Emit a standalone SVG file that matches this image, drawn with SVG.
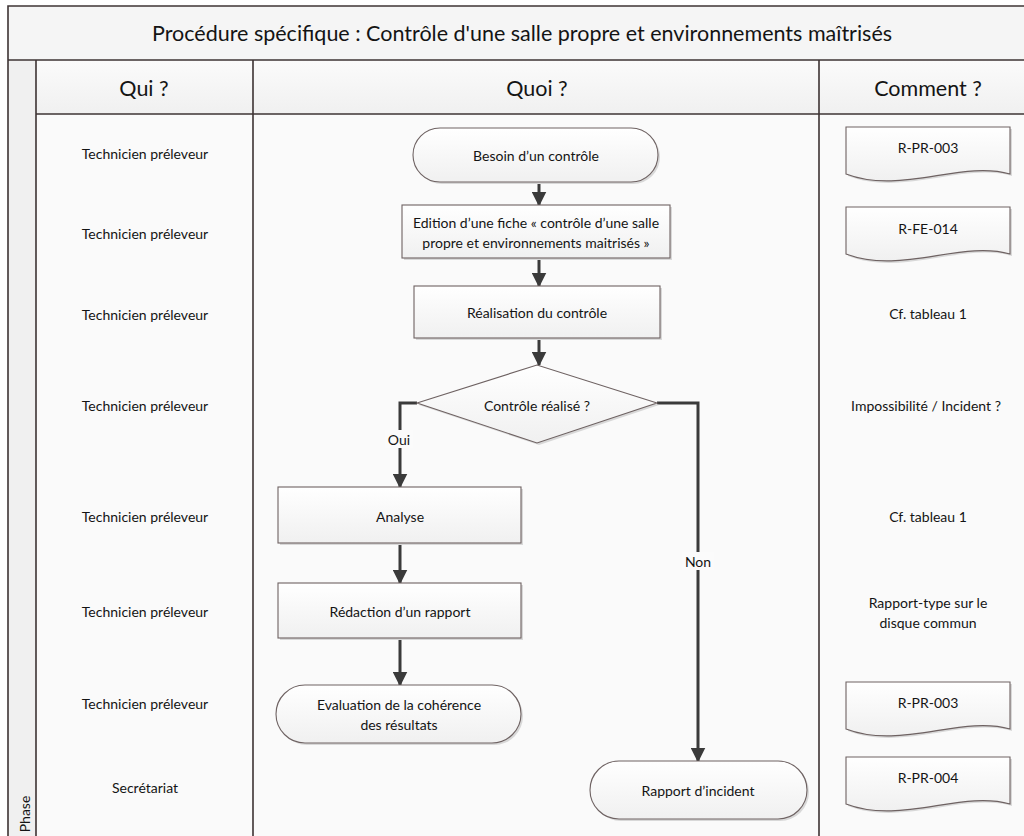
<svg xmlns="http://www.w3.org/2000/svg" width="1024" height="836" viewBox="0 0 1024 836">
<defs>
<linearGradient id="sg" x1="0" y1="0" x2="0" y2="1"><stop offset="0" stop-color="#ffffff"/><stop offset="1" stop-color="#f0f0f0"/></linearGradient>
<linearGradient id="hg" x1="0" y1="0" x2="0" y2="1"><stop offset="0" stop-color="#fbfbfb"/><stop offset="1" stop-color="#f0f0f0"/></linearGradient>
<marker id="ah" viewBox="0 0 10 10" refX="9" refY="5" markerWidth="5" markerHeight="5" orient="auto" markerUnits="strokeWidth"><path d="M0,0 L10,5 L0,10 z" fill="#3a3a3a"/></marker>
<path id="doc" d="M0,0 H164 V47 C115,33 55,68 0,47 Z"/>
</defs>
<style>
text{font-family:Lato,"Liberation Sans",sans-serif;fill:#141414;}
.t{font-size:14px;text-anchor:middle;dominant-baseline:central;}
.h{font-size:21.5px;text-anchor:middle;dominant-baseline:central;}
.grid{stroke:#3e3434;stroke-width:1.6;fill:none;}
.shape{fill:url(#sg);stroke:#6e6262;stroke-width:1.1;}
.shadow{fill:#d8d8d8;}
.con{stroke:#3a3a3a;stroke-width:3;fill:none;marker-end:url(#ah);}
.lbl{fill:#fbfbfb;}
</style>
<g id="frame">
<rect x="0" y="0" width="1024" height="836" fill="#ffffff"/>
<rect x="8" y="6" width="1016" height="54" fill="#f5f5f5"/>
<rect x="8" y="60" width="28" height="776" fill="#f0f0f0"/>
<rect x="36" y="60" width="988" height="54" fill="url(#hg)"/>
<rect x="36" y="114" width="988" height="722" fill="#fafafa"/>
<path class="grid" d="M8,836 V6 H1024 M8,60 H1024 M36,60 V836 M36,114 H1024 M253,60 V836 M819,60 V836"/>
<text class="h" x="522" y="33">Procédure spécifique : Contrôle d'une salle propre et environnements maîtrisés</text>
<text class="h" x="144" y="88">Qui ?</text>
<text class="h" x="537" y="88">Quoi ?</text>
<text class="h" x="928" y="88">Comment ?</text>
<text class="t" transform="translate(24,814) rotate(-90)">Phase</text>
</g>
<g id="qui">
<text class="t" x="145" y="153">Technicien préleveur</text>
<text class="t" x="145" y="233">Technicien préleveur</text>
<text class="t" x="145" y="314">Technicien préleveur</text>
<text class="t" x="145" y="405">Technicien préleveur</text>
<text class="t" x="145" y="516">Technicien préleveur</text>
<text class="t" x="145" y="611">Technicien préleveur</text>
<text class="t" x="145" y="703">Technicien préleveur</text>
<text class="t" x="145" y="787">Secrétariat</text>
</g>
<g id="connectors">
<path class="con" d="M539,182 V205"/>
<path class="con" d="M539,260 V286"/>
<path class="con" d="M539,338 V365"/>
<path class="con" d="M417,403 H400 V487"/>
<path class="con" d="M400,543 V583"/>
<path class="con" d="M400,639 V685"/>
<path class="con" d="M657,403 H698 V761"/>
<rect class="lbl" x="385" y="430" width="28" height="18"/>
<text class="t" x="399" y="439">Oui</text>
<rect class="lbl" x="682" y="552" width="32" height="18"/>
<text class="t" x="698" y="561">Non</text>
</g>
<g id="n-besoin">
<rect class="shadow" x="415" y="130" width="245" height="54" rx="27"/>
<rect class="shape" x="413" y="128" width="245" height="54" rx="27"/>
<text class="t" x="536" y="155">Besoin d’un contrôle</text>
</g>
<g id="n-edition">
<rect class="shadow" x="404" y="207" width="268" height="53"/>
<rect class="shape" x="402" y="205" width="268" height="53"/>
<text class="t" x="536" y="222">Edition d’une fiche « contrôle d’une salle</text>
<text class="t" x="536" y="242">propre et environnements maitrisés »</text>
</g>
<g id="n-realisation">
<rect class="shadow" x="416" y="288" width="246" height="52"/>
<rect class="shape" x="414" y="286" width="246" height="52"/>
<text class="t" x="537" y="312">Réalisation du contrôle</text>
</g>
<g id="n-decision">
<polygon class="shadow" points="419,405 539,367 659,405 539,445"/>
<polygon class="shape" points="417,403 537,365 657,403 537,443"/>
<text class="t" x="537" y="405">Contrôle réalisé ?</text>
</g>
<g id="n-analyse">
<rect class="shadow" x="280" y="489" width="243" height="56"/>
<rect class="shape" x="278" y="487" width="243" height="56"/>
<text class="t" x="400" y="516">Analyse</text>
</g>
<g id="n-redaction">
<rect class="shadow" x="280" y="585" width="243" height="55"/>
<rect class="shape" x="278" y="583" width="243" height="55"/>
<text class="t" x="400" y="611">Rédaction d’un rapport</text>
</g>
<g id="n-evaluation">
<rect class="shadow" x="278" y="687" width="245" height="58" rx="29"/>
<rect class="shape" x="276" y="685" width="245" height="58" rx="29"/>
<text class="t" x="399" y="704">Evaluation de la cohérence</text>
<text class="t" x="399" y="724">des résultats</text>
</g>
<g id="n-incident">
<rect class="shadow" x="592" y="763" width="217" height="58" rx="29"/>
<rect class="shape" x="590" y="761" width="217" height="58" rx="29"/>
<text class="t" x="698" y="790">Rapport d’incident</text>
</g>
<g id="comment">
<g id="d1"><use href="#doc" x="848" y="129" class="shadow"/><use href="#doc" x="846" y="127" class="shape"/><text class="t" x="928" y="147">R-PR-003</text></g>
<g id="d2"><use href="#doc" x="848" y="209" class="shadow"/><use href="#doc" x="846" y="207" class="shape"/><text class="t" x="928" y="228">R-FE-014</text></g>
<text class="t" x="928" y="313">Cf. tableau 1</text>
<text class="t" x="926" y="405">Impossibilité / Incident ?</text>
<text class="t" x="928" y="516">Cf. tableau 1</text>
<text class="t" x="928" y="602">Rapport-type sur le</text>
<text class="t" x="928" y="622">disque commun</text>
<g id="d3"><use href="#doc" x="848" y="684" class="shadow"/><use href="#doc" x="846" y="682" class="shape"/><text class="t" x="928" y="702">R-PR-003</text></g>
<g id="d4"><use href="#doc" x="848" y="759" class="shadow"/><use href="#doc" x="846" y="757" class="shape"/><text class="t" x="928" y="777">R-PR-004</text></g>
</g>
</svg>
